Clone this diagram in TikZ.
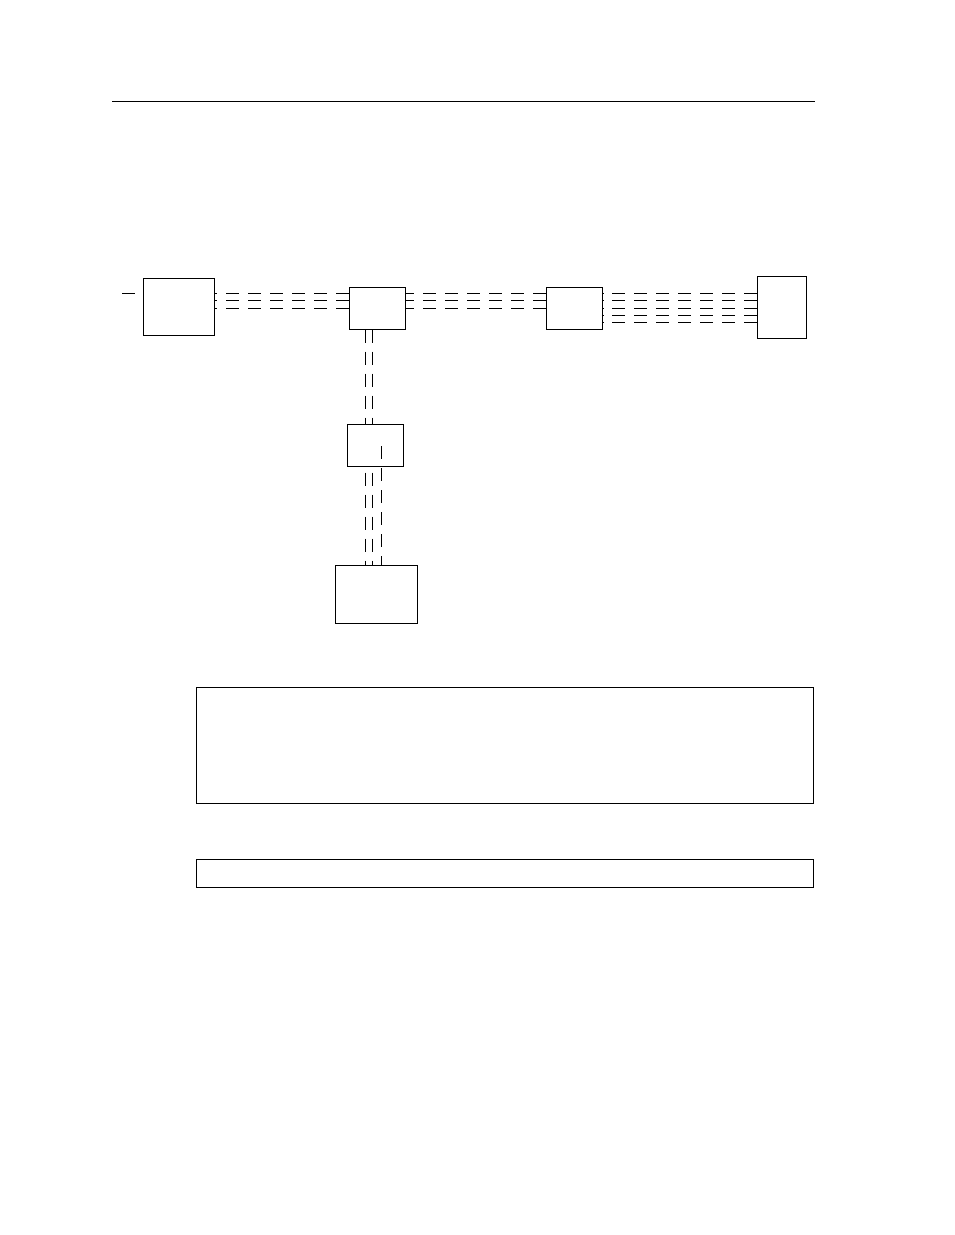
\documentclass[tikz,border=0pt]{standalone}
\begin{document}
\begin{tikzpicture}[x=1pt,y=-1pt,line width=0.8pt,
    box/.style={draw,rectangle,inner sep=0pt,line width=0.8pt},
    wire/.style={line width=0.8pt,dash pattern=on 13pt off 9pt}]
    \useasboundingbox (0,0) rectangle (954,1235);
    \draw (112,101) -- (815,101);
    % boxes of the chain
    \node (src) at (179,306.8)[box,minimum width=71pt,minimum height=57pt]{};
    \node (hub) at (377.3,308.3)[box,minimum width=56pt,minimum height=42pt]{};
    \node (mid) at (574.3,308.3)[box,minimum width=56pt,minimum height=42pt]{};
    \node (dst) at (781.8,307.3)[box,minimum width=49pt,minimum height=62pt]{};
    \node (tap) at (375.3,445.3)[box,minimum width=56pt,minimum height=42pt]{};
    \node (end) at (376.3,594.3)[box,minimum width=82pt,minimum height=58pt]{};
    % panels
    \node (top) at (504.5,745)[box,minimum width=617pt,minimum height=116pt]{};
    \node (bot) at (504.5,873)[box,minimum width=617pt,minimum height=28pt]{};
    % rows and columns of the wires
    \coordinate (in) at (122,293.5);
    \coordinate (h1) at (0,293.5);
    \coordinate (h2) at (0,300.5);
    \coordinate (h3) at (0,308);
    \coordinate (h4) at (0,315);
    \coordinate (h5) at (0,322);
    \coordinate (v1) at (365.3,0);
    \coordinate (v2) at (372.3,0);
    \coordinate (v3) at (381.3,446);
    \draw[wire] (in) -- (src.west |- in);
    \foreach \r in {h1,h2,h3} {
        \draw[wire] (hub.west |- \r) -- (src.east |- \r);
        \draw[wire] (mid.west |- \r) -- (hub.east |- \r);
    }
    \foreach \r in {h1,h2,h3,h4,h5}
        \draw[wire] (dst.west |- \r) -- (mid.east |- \r);
    \foreach \c in {v1,v2} {
        \draw[wire] (hub.south -| \c) -- (tap.north -| \c);
        \draw[wire] ([yshift=-6pt]tap.south -| \c) -- (end.north -| \c);
    }
    \draw[wire] (v3) -- (end.north -| v3);
\end{tikzpicture}
\end{document}
